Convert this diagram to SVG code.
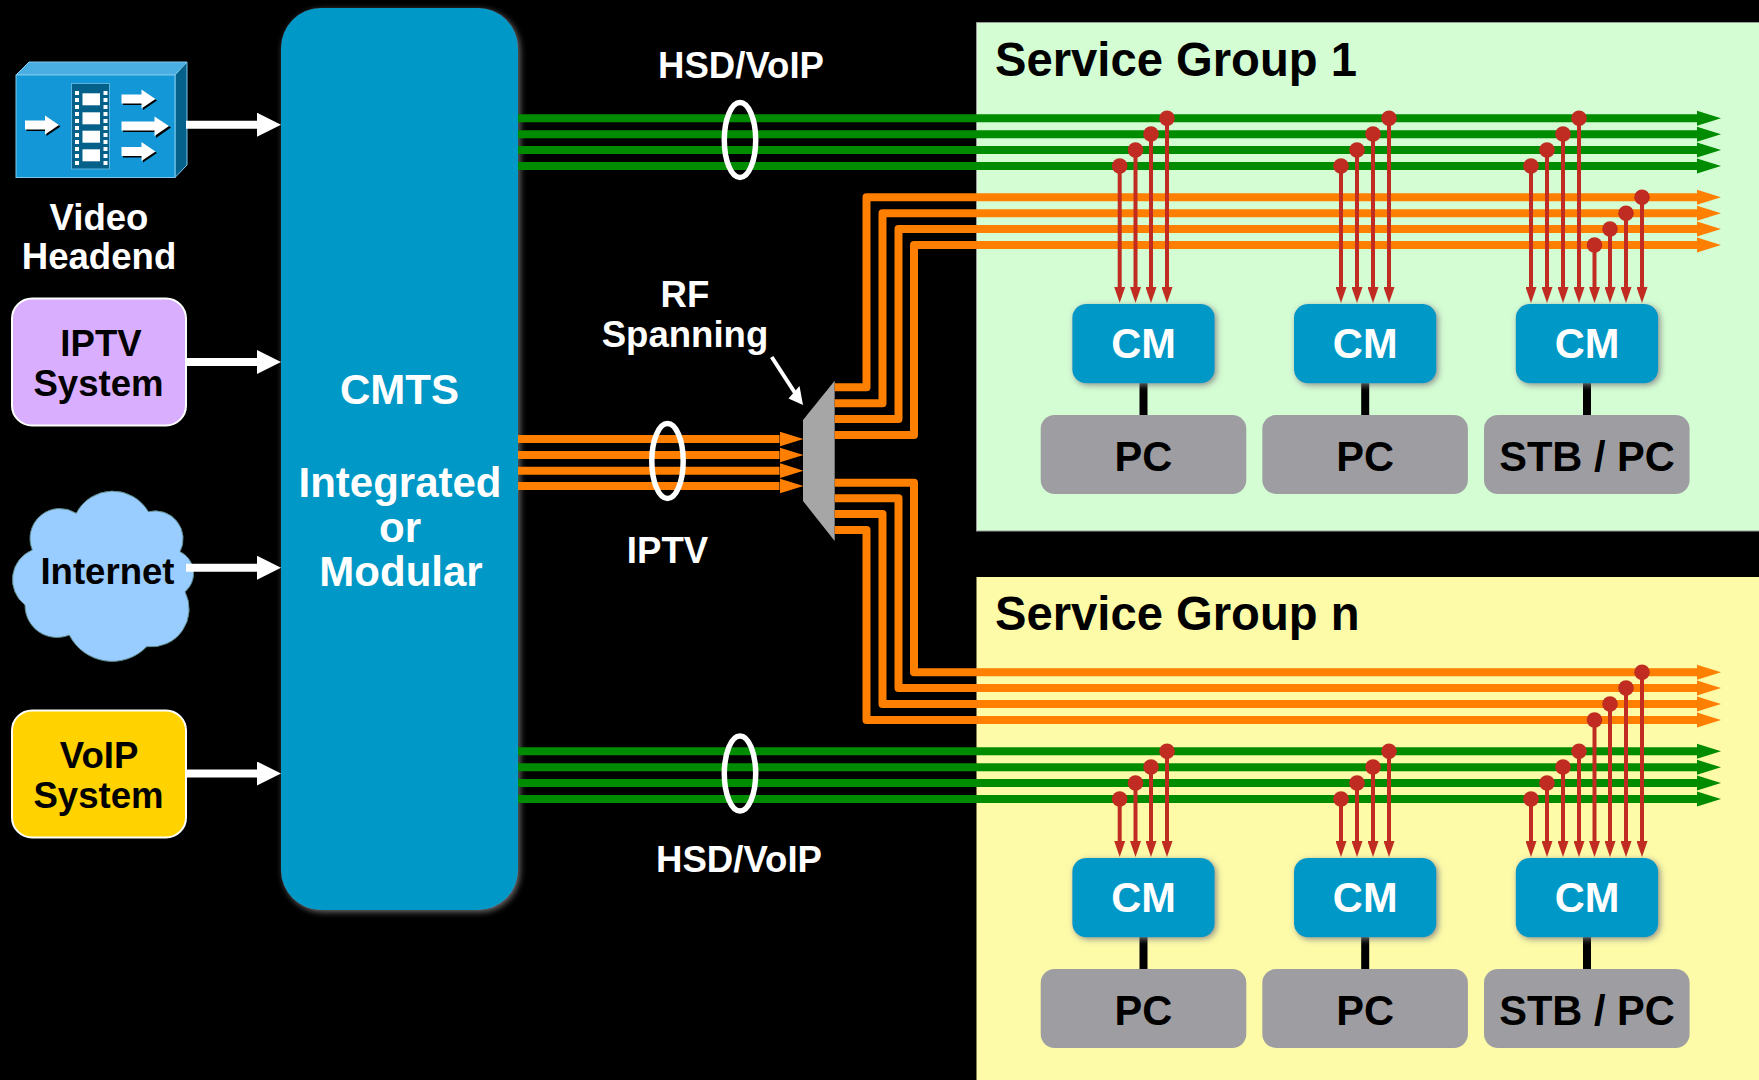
<svg xmlns="http://www.w3.org/2000/svg" width="1759" height="1080" viewBox="0 0 1759 1080">
<style>
text{font-family:"Liberation Sans",Arial,sans-serif;font-weight:bold;text-anchor:middle}
.w{fill:#fff}.k{fill:#000}
.l{font-size:36.6px}
.big{font-size:42px;fill:#fff}
.t{font-size:47.2px;fill:#000;text-anchor:start}
.n{font-size:41.6px}
.cm{fill:#0098c6;filter:url(#sh)}
.pc{fill:#9e9ea2}
.g{stroke:#008c00;stroke-width:8;fill:none}
.o{stroke:#ff7f00;stroke-width:8;fill:none;stroke-linejoin:round}
.r{stroke:#c02c22;stroke-width:4;fill:none;marker-end:url(#ar)}
.d{fill:#c02c22}
.wl{stroke:#fff;stroke-width:8;fill:none;marker-end:url(#aw)}
.e{fill:none;stroke:#fff;stroke-width:5.5}
.ga{marker-end:url(#ag)}
.oa{marker-end:url(#ao)}
.link{stroke:#000;stroke-width:8}
.hole{fill:#fff}
.sa{fill:#000}
</style>
<defs>
<filter id="sh" x="-20%" y="-20%" width="140%" height="140%"><feDropShadow dx="2" dy="2" stdDeviation="3" flood-color="#808080" flood-opacity=".85"/></filter>
<marker id="ag" markerUnits="userSpaceOnUse" markerWidth="24" markerHeight="16" refX="0" refY="8" orient="auto"><path d="M0 .5L24 8L0 15.5z" fill="#008c00"/></marker>
<marker id="ao" markerUnits="userSpaceOnUse" markerWidth="24" markerHeight="16" refX="0" refY="8" orient="auto"><path d="M0 .5L24 8L0 15.5z" fill="#ff7f00"/></marker>
<marker id="ar" markerUnits="userSpaceOnUse" markerWidth="16" markerHeight="11" refX="0" refY="5.500" orient="auto"><path d="M0 0L16 5.500L0 11z" fill="#c02c22"/></marker>
<marker id="aw" markerUnits="userSpaceOnUse" markerWidth="24" markerHeight="24" refX="0" refY="12" orient="auto"><path d="M0 0L24 12L0 24z" fill="#fff"/></marker>
<path id="sarrow" d="M0 4H20V-1L34 8.500L20 18V13H0z"/>
</defs>
<rect width="1759" height="1080" fill="#000"/>

<g id="service-group-1">
<rect x="976.500" y="22.500" width="783" height="508.500" fill="#d4fdd4" stroke="#9a9a9a" stroke-width="1"/>
<text class="t" x="995" y="75.500">Service Group 1</text>
</g>
<g id="service-group-n">
<rect x="976.500" y="577" width="783" height="504" fill="#fdfba8"/>
<text class="t" x="995" y="629.500">Service Group n</text>
</g>

<g id="cmts">
<rect x="281" y="8" width="237" height="902" rx="40" fill="#0098c6" filter="url(#sh)"/>
<text class="big" x="399.500" y="403.500">CMTS</text>
<text class="big" x="400" y="497">Integrated</text>
<text class="big" x="400" y="542">or</text>
<text class="big" x="401" y="586">Modular</text>
</g>

<g id="video-headend">
<path d="M16 75L29 62H187L175 75z" fill="#4aaee3" stroke="#7cc8ec"/>
<path d="M175 75L187 62V165L175 177.500z" fill="#05608a" stroke="#7cc8ec"/>
<rect x="16" y="75" width="159" height="102.500" fill="#1497d6" stroke="#7cc8ec"/>
<rect x="71.500" y="83.500" width="38" height="85.500" fill="#05608a" stroke="#5ab4dc"/>
<g class="hole">
<rect x="82.500" y="93.300" width="17.500" height="12"/><rect x="82.500" y="112.300" width="17.500" height="12"/><rect x="82.500" y="130.700" width="17.500" height="12"/><rect x="82.500" y="149.300" width="17.500" height="12"/>
<path d="M75 91h4v4h-4zM75 98h4v4h-4zM75 105h4v4h-4zM75 112h4v4h-4zM75 119h4v4h-4zM75 126h4v4h-4zM75 133h4v4h-4zM75 140h4v4h-4zM75 147h4v4h-4zM75 154h4v4h-4zM75 161h4v4h-4z"/>
<path d="M103.500 91h4v4h-4zM103.500 98h4v4h-4zM103.500 105h4v4h-4zM103.500 112h4v4h-4zM103.500 119h4v4h-4zM103.500 126h4v4h-4zM103.500 133h4v4h-4zM103.500 140h4v4h-4zM103.500 147h4v4h-4zM103.500 154h4v4h-4zM103.500 161h4v4h-4z"/>
</g>
<use href="#sarrow" x="26.500" y="118" class="sa"/><use href="#sarrow" x="25" y="116.500" class="hole"/>
<use href="#sarrow" x="123" y="92" class="sa"/><use href="#sarrow" x="121.500" y="90.500" class="hole"/>
<use href="#sarrow" x="123" y="144.500" class="sa"/><use href="#sarrow" x="121.500" y="143" class="hole"/>
<path d="M123 123H156V118L171 127.500L156 138V132H123z" fill="#000"/>
<path d="M121.500 121.500H154.500V116.500L169 126L154.500 136V130.500H121.500z" fill="#fff"/>
<text class="w l" x="99" y="230">Video</text>
<text class="w l" x="99" y="269">Headend</text>
</g>

<g id="iptv-system">
<rect x="12" y="298.500" width="174" height="127" rx="20" fill="#d9aeff" stroke="#fff" stroke-width="2"/>
<text class="k l" x="101" y="355.500">IPTV</text>
<text class="k l" x="98.500" y="395.500">System</text>
</g>

<g id="internet">
<path d="M76.300 513.300A41 41 0 0 1 148.300 511.700A28 28 0 0 1 180 551.700A24 24 0 0 1 185 591.700A38 38 0 0 1 146.700 646.700A48 48 0 0 1 69.300 635A32 32 0 0 1 25 605A32 32 0 0 1 32.300 550A30 30 0 0 1 76.300 513.300z" fill="#99ccff" stroke="#5f8a8a" stroke-width="1"/>
<text class="k l" x="107.500" y="584">Internet</text>
</g>

<g id="voip-system">
<rect x="12" y="710.500" width="174" height="127" rx="20" fill="#ffd200" stroke="#fff" stroke-width="2"/>
<text class="k l" x="99" y="767.500">VoIP</text>
<text class="k l" x="98.500" y="807.500">System</text>
</g>

<g id="combiner">
<path d="M803 420L834.700 380.700V541L803 501z" fill="#a6a6a6"/>
</g>

<g id="connectors">
<path class="wl" d="M186 124.700H257"/>
<path class="wl" d="M186 362H257"/>
<path class="wl" d="M186 567.700H257"/>
<path class="wl" d="M186 773.500H257"/>

<path class="o oa" d="M518 439H779.500"/><path class="o oa" d="M518 455H779.500"/><path class="o oa" d="M518 470.700H779.500"/><path class="o oa" d="M518 486H779.500"/>

<path class="g ga" d="M518 118.300H1697"/><path class="g ga" d="M518 134.200H1697"/><path class="g ga" d="M518 150H1697"/><path class="g ga" d="M518 166H1697"/>
<path class="o oa" d="M834.700 387.300H866.500V197.300H1697"/><path class="o oa" d="M834.700 403.300H882.500V213.300H1697"/><path class="o oa" d="M834.700 419H898.500V229H1697"/><path class="o oa" d="M834.700 435H914V245H1697"/>

<path class="o oa" d="M834.700 482.700H914V672.300H1697"/><path class="o oa" d="M834.700 498.300H898.500V688H1697"/><path class="o oa" d="M834.700 514H882.500V704H1697"/><path class="o oa" d="M834.700 530H866.500V720H1697"/>
<path class="g ga" d="M518 751.300H1697"/><path class="g ga" d="M518 767.300H1697"/><path class="g ga" d="M518 783H1697"/><path class="g ga" d="M518 799H1697"/>

<path d="M771.700 357L797 396" stroke="#fff" stroke-width="4" fill="none"/>
<path d="M803 405L788.500 398.500L799.500 386z" fill="#fff"/>

<path class="r" d="M1119.700 166V287"/><path class="r" d="M1135.500 150V287"/><path class="r" d="M1151 134V287"/><path class="r" d="M1167 118.300V287"/>
<path class="r" d="M1341 166V287"/><path class="r" d="M1357 150V287"/><path class="r" d="M1373 134V287"/><path class="r" d="M1389 118.300V287"/>
<path class="r" d="M1531 166V287"/><path class="r" d="M1547 150V287"/><path class="r" d="M1563 134V287"/><path class="r" d="M1579 118.300V287"/>
<path class="r" d="M1594.500 245V287"/><path class="r" d="M1610 229V287"/><path class="r" d="M1626 213.300V287"/><path class="r" d="M1642 197.300V287"/>
<g class="d">
<circle cx="1119.700" cy="166" r="7.800"/><circle cx="1135.500" cy="150" r="7.800"/><circle cx="1151" cy="134" r="7.800"/><circle cx="1167" cy="118.300" r="7.800"/>
<circle cx="1341" cy="166" r="7.800"/><circle cx="1357" cy="150" r="7.800"/><circle cx="1373" cy="134" r="7.800"/><circle cx="1389" cy="118.300" r="7.800"/>
<circle cx="1531" cy="166" r="7.800"/><circle cx="1547" cy="150" r="7.800"/><circle cx="1563" cy="134" r="7.800"/><circle cx="1579" cy="118.300" r="7.800"/>
<circle cx="1594.500" cy="245" r="7.800"/><circle cx="1610" cy="229" r="7.800"/><circle cx="1626" cy="213.300" r="7.800"/><circle cx="1642" cy="197.300" r="7.800"/>
</g>

<path class="r" d="M1119.700 799V841"/><path class="r" d="M1135.500 783V841"/><path class="r" d="M1151 767V841"/><path class="r" d="M1167 751.300V841"/>
<path class="r" d="M1341 799V841"/><path class="r" d="M1357 783V841"/><path class="r" d="M1373 767V841"/><path class="r" d="M1389 751.300V841"/>
<path class="r" d="M1531 799V841"/><path class="r" d="M1547 783V841"/><path class="r" d="M1563 767V841"/><path class="r" d="M1579 751.300V841"/>
<path class="r" d="M1594.500 720V841"/><path class="r" d="M1610 704V841"/><path class="r" d="M1626 688V841"/><path class="r" d="M1642 672.300V841"/>
<g class="d">
<circle cx="1119.700" cy="799" r="7.800"/><circle cx="1135.500" cy="783" r="7.800"/><circle cx="1151" cy="767" r="7.800"/><circle cx="1167" cy="751.300" r="7.800"/>
<circle cx="1341" cy="799" r="7.800"/><circle cx="1357" cy="783" r="7.800"/><circle cx="1373" cy="767" r="7.800"/><circle cx="1389" cy="751.300" r="7.800"/>
<circle cx="1531" cy="799" r="7.800"/><circle cx="1547" cy="783" r="7.800"/><circle cx="1563" cy="767" r="7.800"/><circle cx="1579" cy="751.300" r="7.800"/>
<circle cx="1594.500" cy="720" r="7.800"/><circle cx="1610" cy="704" r="7.800"/><circle cx="1626" cy="688" r="7.800"/><circle cx="1642" cy="672.300" r="7.800"/>
</g>

<path class="link" d="M1143.500 383V415M1365.200 383V415M1587 383V415M1143.500 937V969M1365.200 937V969M1587 937V969"/>
</g>

<g id="bundle-hsd-top"><ellipse class="e" cx="740" cy="140" rx="15.700" ry="37.500"/><text class="w l" x="741" y="78">HSD/VoIP</text></g>
<g id="bundle-iptv"><ellipse class="e" cx="667.500" cy="461" rx="15.700" ry="37.500"/><text class="w l" x="667.500" y="563">IPTV</text></g>
<g id="bundle-hsd-bottom"><ellipse class="e" cx="740" cy="773.500" rx="15.700" ry="37.500"/><text class="w l" x="739" y="872">HSD/VoIP</text></g>
<g id="rf-spanning-label"><text class="w l" x="685" y="307">RF</text><text class="w l" x="685" y="346.500">Spanning</text></g>

<g id="cm-1-1"><rect class="cm" x="1072.300" y="304" width="142.400" height="79.300" rx="14"/><text class="w n" x="1143.500" y="358">CM</text></g>
<g id="cm-1-2"><rect class="cm" x="1294" y="304" width="142.400" height="79.300" rx="14"/><text class="w n" x="1365.200" y="358">CM</text></g>
<g id="cm-1-3"><rect class="cm" x="1515.800" y="304" width="142.400" height="79.300" rx="14"/><text class="w n" x="1587" y="358">CM</text></g>
<g id="pc-1-1"><rect class="pc" x="1040.700" y="415" width="205.600" height="79" rx="14"/><text class="k n" x="1143.500" y="470.500">PC</text></g>
<g id="pc-1-2"><rect class="pc" x="1262.300" y="415" width="205.600" height="79" rx="14"/><text class="k n" x="1365.200" y="470.500">PC</text></g>
<g id="pc-1-3"><rect class="pc" x="1484" y="415" width="205.600" height="79" rx="14"/><text class="k n" x="1587" y="470.500">STB / PC</text></g>

<g id="cm-n-1"><rect class="cm" x="1072.300" y="858" width="142.400" height="79.300" rx="14"/><text class="w n" x="1143.500" y="912">CM</text></g>
<g id="cm-n-2"><rect class="cm" x="1294" y="858" width="142.400" height="79.300" rx="14"/><text class="w n" x="1365.200" y="912">CM</text></g>
<g id="cm-n-3"><rect class="cm" x="1515.800" y="858" width="142.400" height="79.300" rx="14"/><text class="w n" x="1587" y="912">CM</text></g>
<g id="pc-n-1"><rect class="pc" x="1040.700" y="969" width="205.600" height="79" rx="14"/><text class="k n" x="1143.500" y="1024.500">PC</text></g>
<g id="pc-n-2"><rect class="pc" x="1262.300" y="969" width="205.600" height="79" rx="14"/><text class="k n" x="1365.200" y="1024.500">PC</text></g>
<g id="pc-n-3"><rect class="pc" x="1484" y="969" width="205.600" height="79" rx="14"/><text class="k n" x="1587" y="1024.500">STB / PC</text></g>
</svg>
